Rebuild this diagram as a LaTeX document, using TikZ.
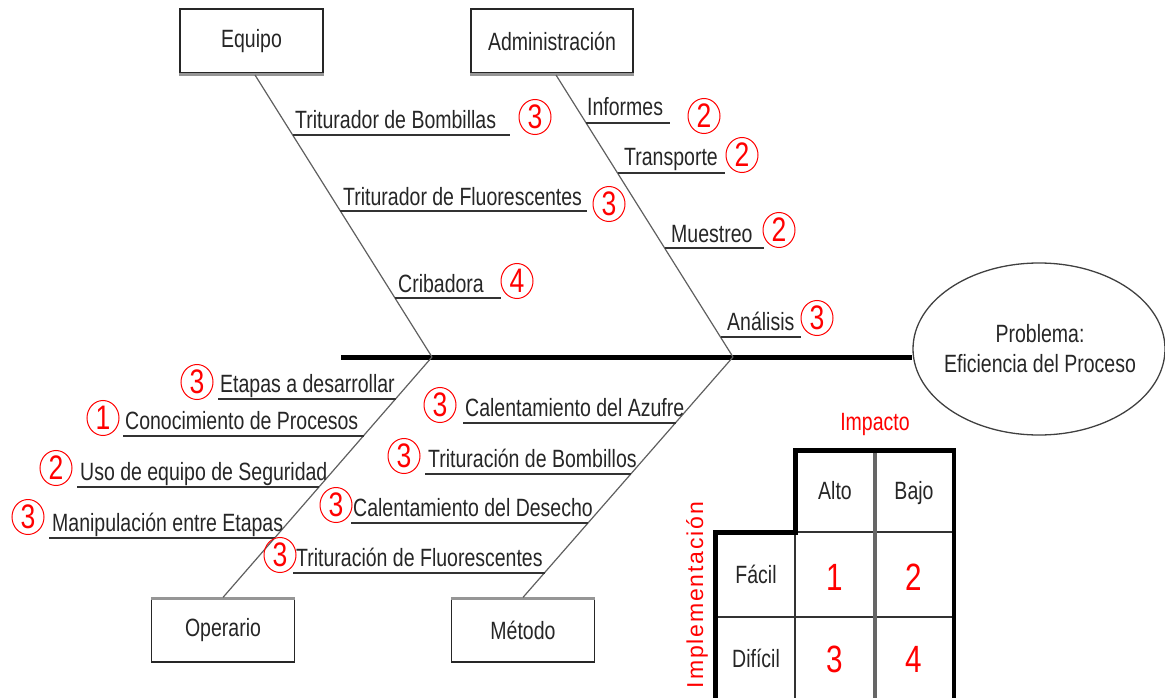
\documentclass[tikz,border=0pt]{standalone}
\usepackage{fontspec}
\setmainfont{Liberation Sans}[FakeStretch=0.78]
\newfontfamily\spacedfont{Liberation Sans}[LetterSpace=8]
\usetikzlibrary{shapes.geometric}
\definecolor{bonec}{RGB}{95,95,95}
\definecolor{ulc}{RGB}{50,50,50}
\definecolor{rd}{RGB}{255,0,0}
\definecolor{shadowc}{RGB}{150,150,150}
\tikzset{
  txt/.style={font=\fontsize{25}{29}\selectfont, text=black!85, inner sep=0pt},
  lbl/.style={txt, anchor=base west},
  catbox/.style={draw=black!85, line width=1.2pt, fill=white, minimum width=143pt, minimum height=64pt, txt},
  bone/.style={draw=bonec, line width=1.2pt},
  ul/.style={draw=ulc, line width=2.6pt},
  spine/.style={draw=black, line width=5pt},
  num/.style={ellipse, draw=rd, line width=1pt, minimum width=32pt, minimum height=35pt, inner sep=0pt, text=rd, font=\fontsize{34}{34}\selectfont},
  cellt/.style={txt, anchor=base},
  celln/.style={inner sep=0pt, anchor=base, text=rd, font=\fontsize{38}{38}\selectfont},
  thickb/.style={draw=black, line width=5pt},
  innerl/.style={draw=black!80, line width=2.6pt},
}
\begin{document}
\begin{tikzpicture}[x=1pt,y=-1pt]
\useasboundingbox (0,0) rectangle (1165,698);
% category boxes
\node[catbox] (equipo) at (251.5,41) {Equipo};
\node[catbox, minimum width=162pt] (admin) at (552,41) {Administración};
\node[catbox] (operario) at (223,630) {Operario};
\node[catbox] (metodo) at (523,630) {Método};
\draw[shadowc, line width=3pt] ([yshift=-1pt]equipo.south west) -- ([yshift=-1pt]equipo.south east);
\draw[shadowc, line width=3pt] ([yshift=-1pt]admin.south west) -- ([yshift=-1pt]admin.south east);
\draw[shadowc, line width=3pt] ([yshift=-1pt]operario.north west) -- ([yshift=-1pt]operario.north east);
\draw[shadowc, line width=3pt] ([yshift=-1pt]metodo.north west) -- ([yshift=-1pt]metodo.north east);
% problem
\node[ellipse, draw=black!75, line width=1.3pt, minimum width=252pt, minimum height=172pt, inner sep=0pt] (prob) at (1039,349) {};
\node[txt, anchor=base] (probt1) at (1040,342) {Problema:};
\node[txt, anchor=base] (probt2) at (1040,372) {Eficiencia del Proceso};
% spine
\coordinate (spL) at (341,357);
\coordinate (jE) at (432,357);
\coordinate (jA) at (733,357);
\draw[spine] (spL) -- (spL -| prob.west);
% bones
\coordinate (eTop) at (255,75);
\coordinate (aTop) at (556,75);
\draw[bone] (eTop) -- (jE);
\draw[bone] (aTop) -- (jA);
\draw[bone] (jE) -- (operario.north);
\draw[bone] (jA) -- (metodo.north);
% Equipo sub-bones
\coordinate (e1a) at (293,135); \coordinate (e1b) at (510,135);
\coordinate (e2a) at (340,211); \coordinate (e2b) at (587,211);
\coordinate (e3a) at (395,298); \coordinate (e3b) at (501,298);
\draw[ul] (e1a) -- (e1b); \draw[ul] (e2a) -- (e2b); \draw[ul] (e3a) -- (e3b);
\node[lbl] (te1) at (295,129) {Triturador de Bombillas};
\node[lbl] (te2) at (343,205) {Triturador de Fluorescentes};
\node[lbl] (te3) at (398,292) {Cribadora};
\node[num] (ne1) at (535,117) {3};
\node[num] (ne2) at (609,204) {3};
\node[num] (ne3) at (517,281) {4};
% Administracion sub-bones
\coordinate (a1a) at (586,123); \coordinate (a1b) at (670,123);
\coordinate (a2a) at (618,173); \coordinate (a2b) at (725,173);
\coordinate (a3a) at (665,248); \coordinate (a3b) at (764,248);
\coordinate (a4a) at (721,337); \coordinate (a4b) at (801,337);
\draw[ul] (a1a) -- (a1b); \draw[ul] (a2a) -- (a2b); \draw[ul] (a3a) -- (a3b); \draw[ul] (a4a) -- (a4b);
\node[lbl] (ta1) at (587,116) {Informes};
\node[lbl] (ta2) at (624,166) {Transporte};
\node[lbl] (ta3) at (671,242) {Muestreo};
\node[lbl] (ta4) at (727,330) {Análisis};
\node[num] (na1) at (704,116) {2};
\node[num] (na2) at (742,155) {2};
\node[num] (na3) at (779,230) {2};
\node[num] (na4) at (817,318) {3};
% Operario sub-bones
\coordinate (o1a) at (218,399); \coordinate (o1b) at (396,399);
\coordinate (o2a) at (123,436); \coordinate (o2b) at (364,436);
\coordinate (o3a) at (77,487); \coordinate (o3b) at (319,487);
\coordinate (o4a) at (49,538); \coordinate (o4b) at (275,538);
\draw[ul] (o1a) -- (o1b); \draw[ul] (o2a) -- (o2b); \draw[ul] (o3a) -- (o3b); \draw[ul] (o4a) -- (o4b);
\node[lbl] (to1) at (220,392) {Etapas a desarrollar};
\node[lbl] (to2) at (125,429) {Conocimiento de Procesos};
\node[lbl] (to3) at (80,480) {Uso de equipo de Seguridad};
\node[lbl] (to4) at (52,531) {Manipulación entre Etapas};
\node[num] (no1) at (197,382) {3};
\node[num] (no2) at (103,418) {1};
\node[num] (no3) at (56,468) {2};
\node[num] (no4) at (28,517) {3};
% Metodo sub-bones
\coordinate (m1a) at (463,423); \coordinate (m1b) at (676,423);
\coordinate (m2a) at (425,474); \coordinate (m2b) at (631,474);
\coordinate (m3a) at (351,523); \coordinate (m3b) at (588,523);
\coordinate (m4a) at (293,573); \coordinate (m4b) at (545,573);
\draw[ul] (m1a) -- (m1b); \draw[ul] (m2a) -- (m2b); \draw[ul] (m3a) -- (m3b); \draw[ul] (m4a) -- (m4b);
\node[lbl] (tm1) at (465,416) {Calentamiento del Azufre};
\node[lbl] (tm2) at (428,467) {Trituración de Bombillos};
\node[lbl] (tm3) at (353,516) {Calentamiento del Desecho};
\node[lbl] (tm4) at (296,566) {Trituración de Fluorescentes};
\node[num] (nm1) at (440,405) {3};
\node[num] (nm2) at (404,456) {3};
\node[num] (nm3) at (336,505) {3};
\node[num] (nm4) at (280,555) {3};
% table
\draw[innerl] (795,532) -- (954,532);
\draw[innerl] (715,617) -- (954,617);
\draw[innerl] (795,532) -- (795,698);
\draw[draw=black!60, line width=3.5pt] (875,450) -- (875,698);
\draw[draw=black, line width=3.5pt] (954,450) -- (954,698);
\draw[thickb, line join=miter] (715,698) -- (715,532) -- (795,532) -- (795,450) -- (956,450);
\node[txt, text=rd, anchor=base] (impacto) at (875,430) {Impacto};
\node[inner sep=0pt, text=rd, font=\spacedfont\fontsize{23}{27}\selectfont, rotate=90] (impl) at (697,595) {Implementación};
\node[cellt] (alto) at (835,499) {Alto};
\node[cellt] (bajo) at (914,499) {Bajo};
\node[cellt] (facil) at (756,583) {Fácil};
\node[cellt] (dificil) at (756,667) {Difícil};
\node[celln] (c1) at (835,590) {1};
\node[celln] (c2) at (914,590) {2};
\node[celln] (c3) at (835,672) {3};
\node[celln] (c4) at (914,672) {4};
\end{tikzpicture}
\end{document}
